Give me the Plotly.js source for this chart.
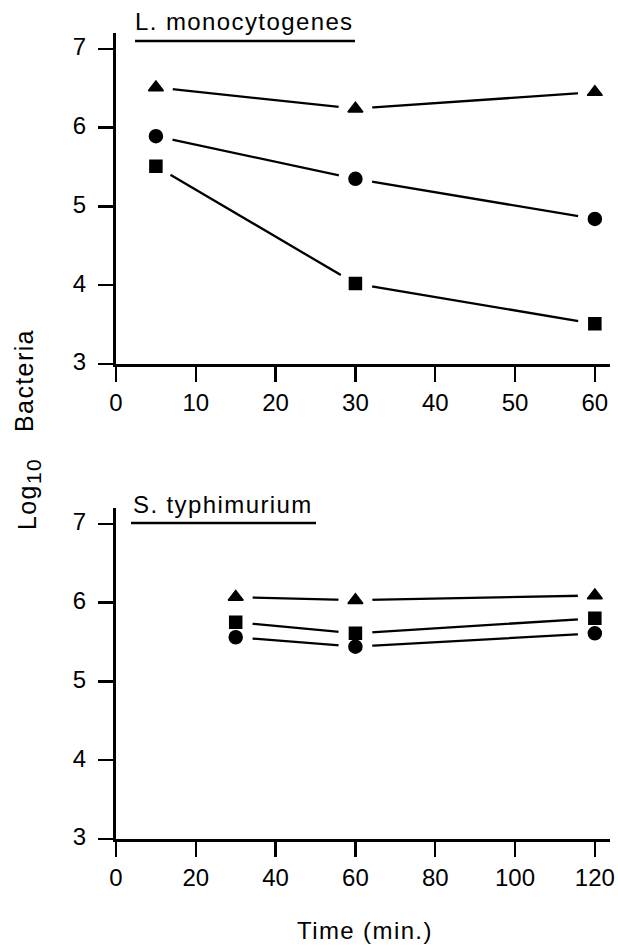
<!DOCTYPE html>
<html><head><meta charset="utf-8">
<script src="https://cdn.plot.ly/plotly-3.0.1.min.js"></script>
<style>html,body{margin:0;padding:0;background:#fff;} .annotation-text{letter-spacing:1.4px;}</style>
</head><body><div id="chart" style="width:618px;height:947px;"></div>
<script>
// L. monocytogenes panel
const lmTime = [5, 30, 60];
const lmTriangle = [6.51, 6.24, 6.45];
const lmCircle = [5.89, 5.35, 4.84];
const lmSquare = [5.51, 4.02, 3.51];
// S. typhimurium panel
const stTime = [30, 60, 120];
const stTriangle = [6.07, 6.03, 6.09];
const stSquare = [5.75, 5.61, 5.80];
const stCircle = [5.56, 5.44, 5.61];
// ticks and labels
const yTicks = [3, 4, 5, 6, 7];
const lmXTicks = [0, 10, 20, 30, 40, 50, 60];
const stXTicks = [0, 20, 40, 60, 80, 100, 120];
const panelTitles = ['L. monocytogenes', 'S. typhimurium'];
const xTitle = 'Time (min.)';
const yTitleParts = ['Log<sub><span style="font-size:21px">10</span></sub>', 'Bacteria'];

const FONT = 'Liberation Sans, Arial, Helvetica, sans-serif';
const series = [
  {x: lmTime, y: lmTriangle, sym: 'triangle-up', size: 13, xa: 'x', ya: 'y'},
  {x: lmTime, y: lmCircle, sym: 'circle', size: 13, xa: 'x', ya: 'y'},
  {x: lmTime, y: lmSquare, sym: 'square', size: 12, xa: 'x', ya: 'y'},
  {x: stTime, y: stTriangle, sym: 'triangle-up', size: 13, xa: 'x2', ya: 'y2'},
  {x: stTime, y: stSquare, sym: 'square', size: 12, xa: 'x2', ya: 'y2'},
  {x: stTime, y: stCircle, sym: 'circle', size: 13, xa: 'x2', ya: 'y2'}
];
const traces = [];
series.forEach(s => traces.push({x: s.x, y: s.y, xaxis: s.xa, yaxis: s.ya, type: 'scatter', mode: 'lines',
  line: {color: '#000', width: 2.3}, hoverinfo: 'skip', showlegend: false}));
series.forEach(s => traces.push({x: s.x, y: s.y, xaxis: s.xa, yaxis: s.ya, type: 'scatter', mode: 'markers',
  marker: {color: '#fff', size: 34, symbol: 'circle', line: {width: 0}}, hoverinfo: 'skip', showlegend: false, cliponaxis: false}));
series.forEach(s => traces.push({x: s.x, y: s.y, xaxis: s.xa, yaxis: s.ya, type: 'scatter', mode: 'markers',
  marker: {color: '#000', size: s.size, symbol: s.sym, line: {width: 1.5, color: '#000'}}, hoverinfo: 'skip', showlegend: false, cliponaxis: false}));

const W = 618, H = 947;
const px = v => v / W, py = v => 1 - v / H;
const axCommon = {showline: true, linecolor: '#000', linewidth: 3, ticks: 'outside', ticklen: 15, tickwidth: 2.5,
  tickcolor: '#000', showgrid: false, zeroline: false, tickfont: {family: FONT, size: 24, color: '#000'}, fixedrange: true};
const xCommon = Object.assign({}, axCommon, {ticklabelstandoff: 5.5});
const yCommon = Object.assign({}, axCommon, {ticklabelstandoff: 7, ticklabelshift: -2});

const layout = {
  width: W, height: H, margin: {l: 0, r: 0, t: 0, b: 0},
  paper_bgcolor: '#fff', plot_bgcolor: 'rgba(0,0,0,0)', showlegend: false,
  xaxis: Object.assign({}, xCommon, {domain: [px(116), px(610)], range: [0, 61.9], tickvals: lmXTicks, anchor: 'y'}),
  yaxis: Object.assign({}, yCommon, {domain: [py(364), py(33)], range: [3, 7.2], tickvals: yTicks, anchor: 'x'}),
  xaxis2: Object.assign({}, xCommon, {domain: [px(116), px(610)], range: [0, 123.8], tickvals: stXTicks, anchor: 'y2'}),
  yaxis2: Object.assign({}, yCommon, {domain: [py(839), py(508)], range: [3, 7.2], tickvals: yTicks, anchor: 'x2'}),
  annotations: [
    {text: panelTitles[0], xref: 'paper', yref: 'paper', x: px(133), y: py(22), xanchor: 'left', yanchor: 'middle', showarrow: false, font: {family: FONT, size: 24, color: '#000'}},
    {text: panelTitles[1], xref: 'paper', yref: 'paper', x: px(131), y: py(504.6), xanchor: 'left', yanchor: 'middle', showarrow: false, font: {family: FONT, size: 24, color: '#000'}},
    {text: xTitle, xref: 'paper', yref: 'paper', x: px(365), y: py(930), xanchor: 'center', yanchor: 'middle', showarrow: false, font: {family: FONT, size: 24, color: '#000'}},
    {text: yTitleParts[0], xref: 'paper', yref: 'paper', x: px(29), y: py(494), xanchor: 'center', yanchor: 'middle', textangle: -90, showarrow: false, font: {family: FONT, size: 25, color: '#000'}},
    {text: yTitleParts[1], xref: 'paper', yref: 'paper', x: px(24), y: py(380), xanchor: 'center', yanchor: 'middle', textangle: -90, showarrow: false, font: {family: FONT, size: 25, color: '#000'}}
  ],
  shapes: [
    {type: 'line', xref: 'paper', yref: 'paper', x0: px(135), x1: px(355), y0: py(41), y1: py(41), line: {color: '#000', width: 2.5}},
    {type: 'line', xref: 'paper', yref: 'paper', x0: px(131), x1: px(316), y0: py(523), y1: py(523), line: {color: '#000', width: 2.5}}
  ]
};
Plotly.newPlot('chart', traces, layout, {staticPlot: true, displayModeBar: false});
</script></body></html>
